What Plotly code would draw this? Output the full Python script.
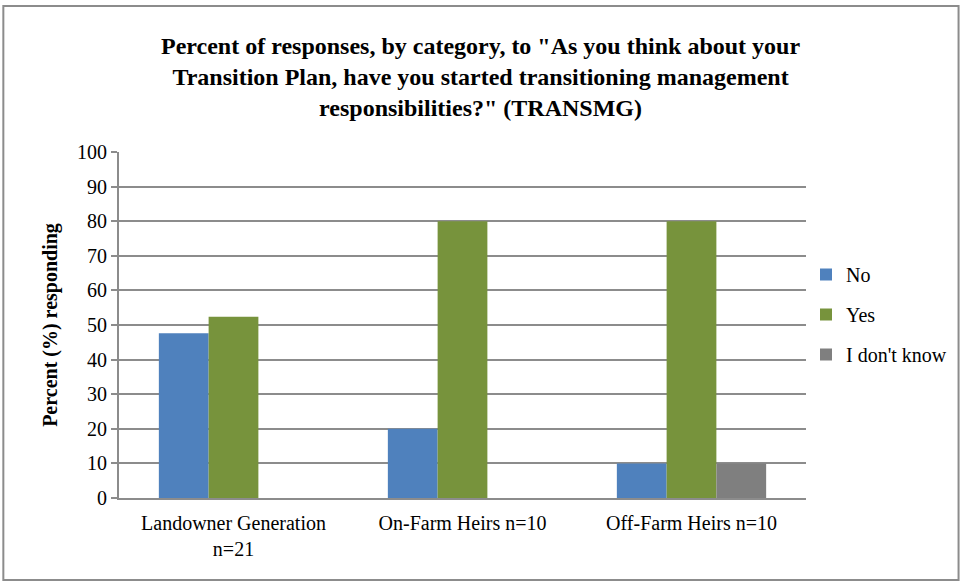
import plotly.graph_objects as go

categories = ["Landowner Generation<br>n=21", "On-Farm Heirs n=10", "Off-Farm Heirs n=10"]
no_vals = [47.6, 20, 10]
yes_vals = [52.4, 80, 80]
idk_vals = [0, 0, 10]
y_ticks = [0, 10, 20, 30, 40, 50, 60, 70, 80, 90, 100]
title_text = ('Percent of responses, by category, to "As you think about your<br>'
              'Transition Plan, have you started transitioning management<br>'
              'responsibilities?" (TRANSMG)')

series = [
    ("No", no_vals, "#4F81BD"),
    ("Yes", yes_vals, "#77933C"),
    ("I don't know", idk_vals, "#7F7F7F"),
]

fig = go.Figure()
for name, vals, color in series:
    fig.add_trace(go.Bar(
        name=name, x=categories, y=vals, legendgroup=name,
        marker=dict(color=color, line=dict(width=0)),
    ))

W, H = 964, 582
L, R, T, B = 119, 156, 152, 84
pw, ph = W - L - R, H - T - B

def px_x(v):
    return (v - L) / pw

def px_y(v):
    return (H - B - v) / ph

font = "Liberation Serif, Times New Roman, serif"
title_font = "Times New Roman, Liberation Serif, serif"
grey = "#8C8C8C"

fig.update_layout(
    template="none",
    width=W, height=H, autosize=False,
    margin=dict(l=L, r=R, t=T, b=B),
    paper_bgcolor="white", plot_bgcolor="white",
    barmode="group", bargap=0.348, bargroupgap=0,
    font=dict(family=font, size=20, color="black"),
    xaxis=dict(
        showgrid=False, showline=True, linecolor=grey, linewidth=2,
        ticks="", tickfont=dict(family=font, size=20), automargin=False,
        ticklabelstandoff=6,
    ),
    yaxis=dict(
        range=[0, 100], tickvals=y_ticks, showgrid=True, gridcolor=grey,
        gridwidth=1.5, showline=True, linecolor=grey, linewidth=2,
        ticks="outside", ticklen=6, tickcolor=grey, tickwidth=1.5,
        tickfont=dict(family=font, size=20), zeroline=False, automargin=False,
        title=dict(text="Percent (%) responding",
                   font=dict(family=title_font, size=20, weight=700), standoff=14),
    ),
    legend=dict(
        x=px_x(808), y=px_y(255), xanchor="left", yanchor="top",
        font=dict(family=font, size=20), tracegroupgap=11, itemsizing="constant",
        bgcolor="rgba(0,0,0,0)",
    ),
    annotations=[dict(
        text=title_text,
        xref="paper", yref="paper", x=px_x(W / 2), y=px_y(77),
        xanchor="center", yanchor="middle", showarrow=False, align="center",
        font=dict(family=title_font, size=24, color="black", weight=700),
    )],
    shapes=[dict(
        type="rect", xref="paper", yref="paper",
        x0=px_x(3), x1=px_x(961), y0=px_y(580), y1=px_y(6),
        line=dict(color=grey, width=2), fillcolor="rgba(0,0,0,0)", layer="below",
    )],
)

page_css = (
    "document.documentElement.style.overflow='hidden';"
    "document.body.style.margin='0';"
    "document.body.style.overflow='hidden';"
)

fig.write_html("out.html", post_script=page_css)
